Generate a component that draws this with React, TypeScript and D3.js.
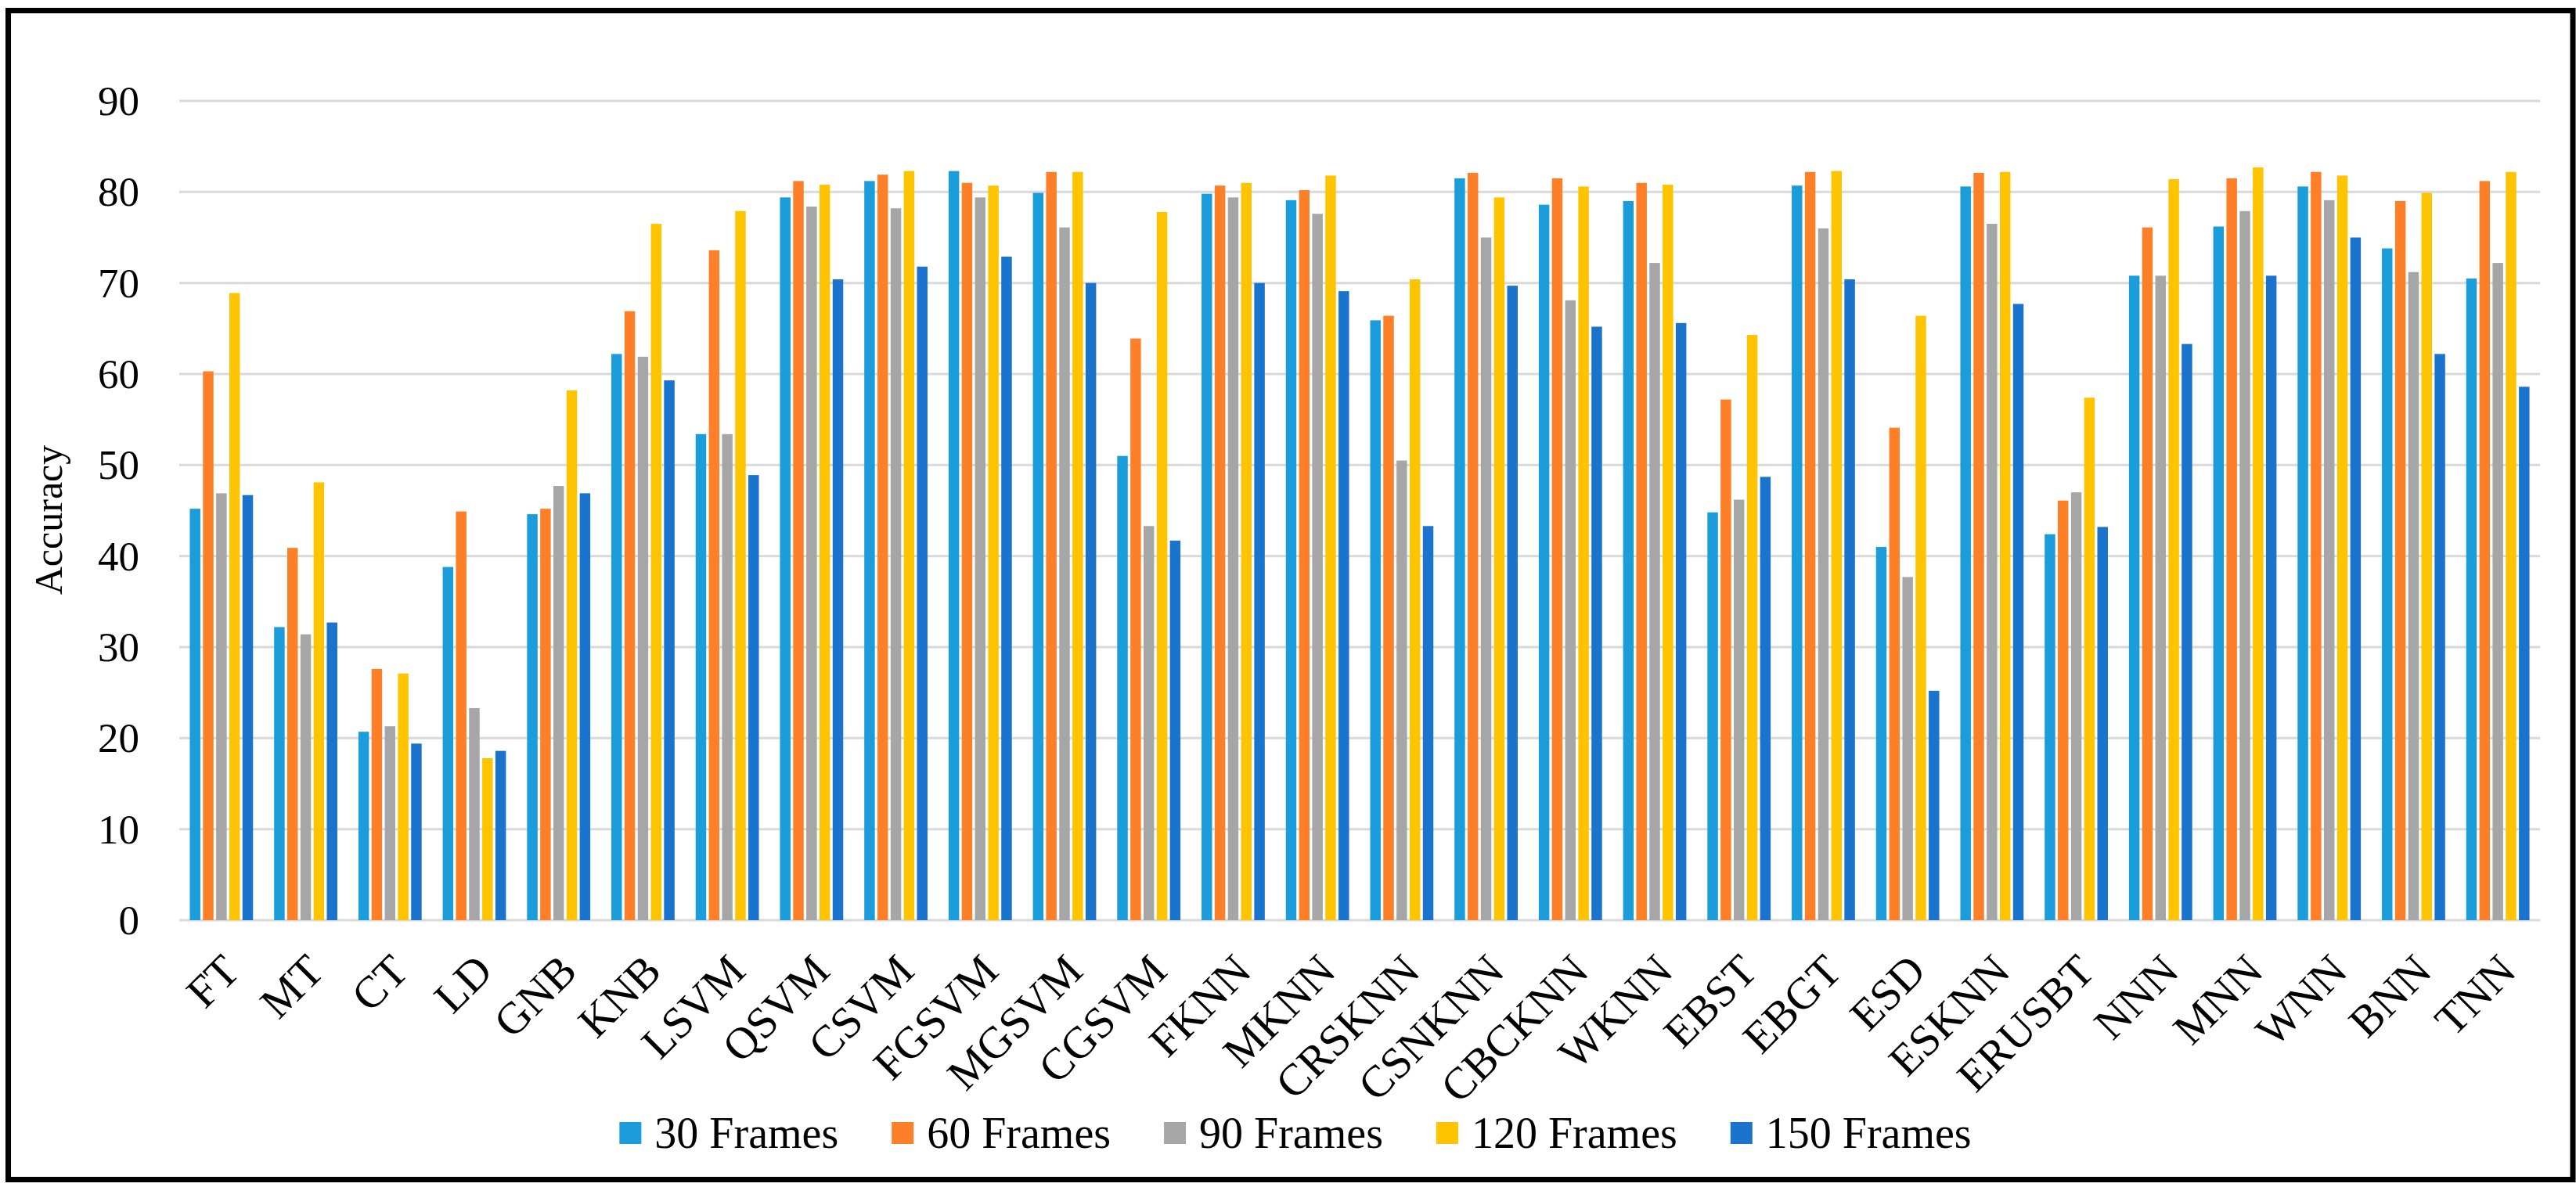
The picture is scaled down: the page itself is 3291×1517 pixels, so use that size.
import React, { useEffect, useRef } from 'react';
import * as d3 from 'd3';

const categories = ['FT', 'MT', 'CT', 'LD', 'GNB', 'KNB', 'LSVM', 'QSVM', 'CSVM', 'FGSVM', 'MGSVM', 'CGSVM', 'FKNN', 'MKNN', 'CRSKNN', 'CSNKNN', 'CBCKNN', 'WKNN', 'EBST', 'EBGT', 'ESD', 'ESKNN', 'ERUSBT', 'NNN', 'MNN', 'WNN', 'BNN', 'TNN'];

const seriesNames = ['30 Frames', '60 Frames', '90 Frames', '120 Frames', '150 Frames'];
const seriesColors = ['#1B9DDB', '#FD7F28', '#A6A6A6', '#FFC400', '#1A73CC'];

const frames30 = [45.2, 32.2, 20.7, 38.8, 44.6, 62.2, 53.4, 79.4, 81.2, 82.3, 79.9, 51.0, 79.8, 79.1, 65.9, 81.5, 78.6, 79.0, 44.8, 80.7, 41.0, 80.6, 42.4, 70.8, 76.2, 80.6, 73.8, 70.5];
const frames60 = [60.3, 40.9, 27.6, 44.9, 45.2, 66.9, 73.6, 81.2, 81.9, 81.0, 82.2, 63.9, 80.7, 80.2, 66.4, 82.1, 81.5, 81.0, 57.2, 82.2, 54.1, 82.1, 46.1, 76.1, 81.5, 82.2, 79.0, 81.2];
const frames90 = [46.9, 31.4, 21.3, 23.3, 47.7, 61.9, 53.4, 78.4, 78.2, 79.4, 76.1, 43.3, 79.4, 77.6, 50.5, 75.0, 68.1, 72.2, 46.2, 76.0, 37.7, 76.5, 47.0, 70.8, 77.9, 79.1, 71.2, 72.2];
const frames120 = [68.9, 48.1, 27.1, 17.8, 58.2, 76.5, 77.9, 80.8, 82.3, 80.7, 82.2, 77.8, 81.0, 81.8, 70.4, 79.4, 80.6, 80.8, 64.3, 82.3, 66.4, 82.2, 57.4, 81.4, 82.7, 81.8, 79.9, 82.2];
const frames150 = [46.7, 32.7, 19.4, 18.6, 46.9, 59.3, 48.9, 70.4, 71.8, 72.9, 70.0, 41.7, 70.0, 69.1, 43.3, 69.7, 65.2, 65.6, 48.7, 70.4, 25.2, 67.7, 43.2, 63.3, 70.8, 75.0, 62.2, 58.6];

const seriesValues = [frames30, frames60, frames90, frames120, frames150];
const yTicks = [0, 10, 20, 30, 40, 50, 60, 70, 80, 90];

const W = 3291;
const H = 1517;
const FONT = '"Liberation Serif", "Times New Roman", serif';

const App: React.FC = () => {
  const svgRef = useRef<SVGSVGElement>(null);

  useEffect(() => {
    if (!svgRef.current) return;
    const svg = d3.select(svgRef.current);
    svg.selectAll('*').remove();

    const left = 229, right = 3245, top = 129, bottom = 1176;

    svg.append('rect').attr('width', W).attr('height', H).attr('fill', '#fff');

    const x = d3.scaleBand<string>().domain(categories).range([left, right])
      .paddingInner(0.25).paddingOuter(0.125);
    const xSub = d3.scaleBand<number>().domain(d3.range(seriesNames.length))
      .range([0, x.bandwidth()]).paddingInner(0.2);
    const y = d3.scaleLinear().domain([0, 90]).range([bottom, top]);

    // gridlines
    svg.append('g').selectAll('line').data(yTicks).join('line')
      .attr('x1', left).attr('x2', right)
      .attr('y1', d => y(d)).attr('y2', d => y(d))
      .attr('stroke', '#d9d9d9').attr('stroke-width', 3);

    // y tick labels
    svg.append('g').selectAll('text').data(yTicks).join('text')
      .attr('x', 178).attr('y', d => y(d))
      .attr('text-anchor', 'end').attr('dominant-baseline', 'central')
      .attr('font-family', FONT).attr('font-size', 53).attr('fill', '#000')
      .text(d => d);

    // y title
    svg.append('text')
      .attr('transform', `translate(79,${(top + bottom) / 2 + 12}) rotate(-90)`)
      .attr('text-anchor', 'middle')
      .attr('font-family', FONT).attr('font-size', 50).attr('fill', '#000')
      .text('Accuracy');

    // bars
    const groups = svg.append('g').selectAll('g').data(categories).join('g')
      .attr('transform', d => `translate(${x(d)},0)`);
    groups.selectAll('rect')
      .data((_, i) => seriesValues.map((vals, s) => ({ s, v: vals[i] })))
      .join('rect')
      .attr('x', d => xSub(d.s)!)
      .attr('width', xSub.bandwidth())
      .attr('y', d => y(d.v))
      .attr('height', d => y(0) - y(d.v))
      .attr('fill', d => seriesColors[d.s]);

    // x labels
    svg.append('g').selectAll('text').data(categories).join('text')
      .attr('transform', d => `translate(${x(d)! + x.bandwidth() / 2 + 26},1244) rotate(-45)`)
      .attr('text-anchor', 'end')
      .attr('font-family', FONT).attr('font-size', 57).attr('fill', '#000')
      .text(d => d);

    // legend
    const legend = svg.append('g');
    const items = legend.selectAll('g').data(seriesNames).join('g');
    items.append('rect').attr('width', 28).attr('height', 28).attr('y', -14)
      .attr('fill', (_, i) => seriesColors[i]);
    items.append('text').attr('x', 45).attr('dominant-baseline', 'central')
      .attr('font-family', FONT).attr('font-size', 56).attr('fill', '#000')
      .text(d => d);
    const gap = 68;
    let cursor = 0;
    items.each(function () {
      const g = d3.select(this);
      g.attr('transform', `translate(${cursor},0)`);
      const tw = (g.select('text').node() as SVGTextElement).getComputedTextLength();
      cursor += 45 + tw + gap;
    });
    const legendWidth = cursor - gap;
    legend.attr('transform', `translate(${1655 - legendWidth / 2},1448)`);

    // frame
    svg.append('rect').attr('x', 10.5).attr('y', 13.5).attr('width', 3276.5).attr('height', 1494)
      .attr('fill', 'none').attr('stroke', '#000').attr('stroke-width', 7);
  }, []);

  return (
    <svg ref={svgRef} width={W} height={H}
      style={{ position: 'absolute', left: 0, top: 0, display: 'block' }} />
  );
};

export default App;
